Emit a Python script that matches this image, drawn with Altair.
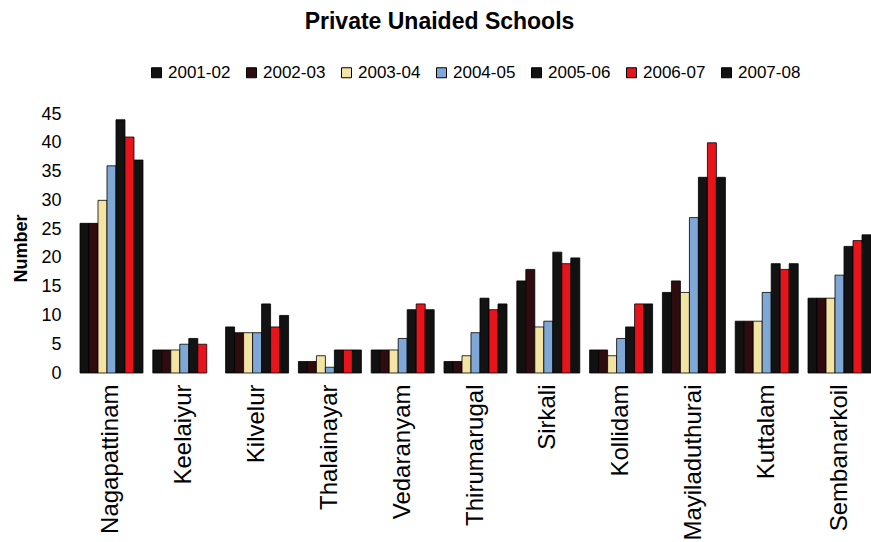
import altair as alt
import pandas as pd

blocks = ["Nagapattinam", "Keelaiyur", "Kilvelur", "Thalainayar", "Vedaranyam",
          "Thirumarugal", "Sirkali", "Kollidam", "Mayiladuthurai", "Kuttalam",
          "Sembanarkoil"]
years = ["2001-02", "2002-03", "2003-04", "2004-05", "2005-06", "2006-07", "2007-08"]

v_2001_02 = [26, 4, 8, 2, 4, 2, 16, 4, 14, 9, 13]
v_2002_03 = [26, 4, 7, 2, 4, 2, 18, 4, 16, 9, 13]
v_2003_04 = [30, 4, 7, 3, 4, 3, 8, 3, 14, 9, 13]
v_2004_05 = [36, 5, 7, 1, 6, 7, 9, 6, 27, 14, 17]
v_2005_06 = [44, 6, 12, 4, 11, 13, 21, 8, 34, 19, 22]
v_2006_07 = [41, 5, 8, 4, 12, 11, 19, 12, 40, 18, 23]
v_2007_08 = [37, None, 10, 4, 11, 12, 20, 12, 34, 19, 24]

series = [v_2001_02, v_2002_03, v_2003_04, v_2004_05, v_2005_06, v_2006_07, v_2007_08]
colors = ["#111111", "#2e0c10", "#f4e4a4", "#7fa8d6", "#131313", "#e8141c", "#111111"]

rows = []
for yr, vals in zip(years, series):
    for b, v in zip(blocks, vals):
        if v is not None:
            rows.append({"Block": b, "Year": yr, "Number": v})
df = pd.DataFrame(rows)

FONT = "Liberation Sans"

chart = alt.Chart(df).mark_bar(stroke="black", strokeWidth=0.8).encode(
    x=alt.X("Block:N", sort=blocks,
            scale=alt.Scale(paddingInner=0.135, paddingOuter=0),
            axis=alt.Axis(title=None, labelAngle=-90, labelFontSize=24, labelFont=FONT,
                          labelColor="black", labelPadding=11, ticks=False, domain=False,
                          labelLimit=300)),
    xOffset=alt.XOffset("Year:N", sort=years, scale=alt.Scale(paddingInner=0, paddingOuter=0)),
    y=alt.Y("Number:Q", scale=alt.Scale(domain=[0, 45], nice=False),
            axis=alt.Axis(values=list(range(0, 50, 5)), title="Number", grid=False,
                          ticks=False, domain=False, labelFontSize=18, labelFont=FONT,
                          labelColor="black", labelPadding=19,
                          titleFontSize=18, titleFont=FONT, titleFontWeight="bold",
                          titleColor="black", titleX=-54, titleY=134, titleAngle=-90,
                          titleAlign="center", titleBaseline="alphabetic")),
    color=alt.Color("Year:N", sort=years,
                    scale=alt.Scale(domain=years, range=colors),
                    legend=alt.Legend(title=None, orient="none", legendX=68, legendY=-50,
                                      direction="horizontal", symbolType="square",
                                      symbolSize=100, symbolStrokeColor="black",
                                      symbolStrokeWidth=1, labelFontSize=17, labelFont=FONT,
                                      labelColor="black", columnPadding=12, labelOffset=3)),
).properties(
    width=791, height=259,
    title=alt.Title("Private Unaided Schools", fontSize=23, fontWeight="bold", font=FONT,
                    color="black", anchor="middle", dx=-36, offset=30),
    autosize=alt.AutoSizeParams(type="none"),
    padding={"left": 80, "top": 114, "right": 0, "bottom": 169},
).configure_view(stroke=None)

chart.save("out.html", embed_options={"renderer": "svg", "actions": False})
